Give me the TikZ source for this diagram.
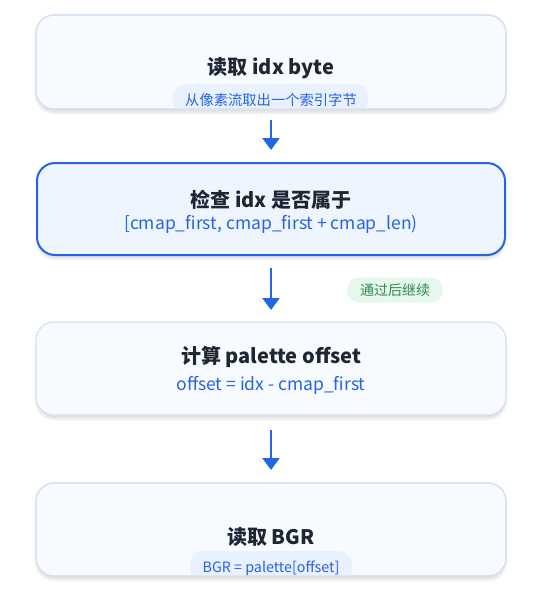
\documentclass[tikz,border=0pt]{standalone}
\usepackage{fontspec}
\setmainfont{Noto Sans CJK SC}
\usetikzlibrary{arrows.meta,shadows.blur}
\definecolor{bordc}{HTML}{D5E1F3}
\definecolor{boxfill}{HTML}{F7FAFF}
\definecolor{actfill}{HTML}{EEF5FF}
\definecolor{blueC}{HTML}{2563EB}
\definecolor{titleC}{HTML}{1E2533}
\definecolor{pillB}{HTML}{E9F1FE}
\definecolor{pillG}{HTML}{E6F8EC}
\definecolor{greenT}{HTML}{2E8B4A}
\tikzset{
  box/.style={draw=bordc,line width=1.2pt,fill=boxfill,rounded corners=18pt,
    blur shadow={shadow blur steps=8,shadow xshift=0pt,shadow yshift=-4pt,shadow opacity=12}},
  actbox/.style={draw=blueC,line width=2pt,fill=actfill,rounded corners=18pt,
    blur shadow={shadow blur steps=8,shadow xshift=0pt,shadow yshift=-4pt,shadow opacity=12}},
  ttl/.style={font=\fontsize{20}{22}\selectfont\bfseries,text=titleC,inner sep=0pt},
  sub/.style={font=\fontsize{17.5}{20}\selectfont,text=blueC,inner sep=0pt},
  pillsub/.style={font=\fontsize{14.3}{16}\selectfont,text=blueC,inner sep=0pt},
  arr/.style={draw=blueC,line width=2.6pt,-{Triangle[width=17pt,length=12pt]}},
}
\begin{document}
\begin{tikzpicture}[x=1pt,y=-1pt]
\useasboundingbox (0,0) rectangle (557,608);
% boxes
\path[box] (36,15) rectangle (506,109);
\begin{scope}
\clip[rounded corners=18pt] (36,15) rectangle (506,109);
\fill[pillB,rounded corners=13pt] (173,84) rectangle (368,114);
\end{scope}
\draw[bordc,line width=1.2pt,rounded corners=18pt] (36,15) rectangle (506,109);
\node[ttl] (t1) at (271,68) {读取 idx byte};
\node[pillsub] (s1) at (271,100) {从像素流取出一个索引字节};

\path[actbox] (37,163) rectangle (505,255);
\node[ttl] (t2) at (271,200) {检查 idx 是否属于};
\node[sub] (s2) at (271,224) {[cmap\_first, cmap\_first + cmap\_len)};

\path[box] (36,322) rectangle (506,415);
\node[ttl] (t3) at (271,357) {计算 palette offset};
\node[sub] (s3) at (271,385) {offset = idx - cmap\_first};

\path[box] (36,483) rectangle (506,576);
\begin{scope}
\clip[rounded corners=18pt] (36,483) rectangle (506,576);
\fill[pillB,rounded corners=13pt] (190,551) rectangle (352,582);
\end{scope}
\draw[bordc,line width=1.2pt,rounded corners=18pt] (36,483) rectangle (506,576);
\node[ttl] (t4) at (271,537) {读取 BGR};
\node[pillsub] (s4) at (271,568) {BGR = palette[offset]};

% coordinates for connectors
\coordinate (a1s) at (271,120);
\coordinate (a1e) at (271,150);
\coordinate (a2s) at (271,268);
\coordinate (a2e) at (271,310);
\coordinate (a3s) at (271,430);
\coordinate (a3e) at (271,470);
\draw[arr] (a1s) -- (a1e);
\draw[arr] (a2s) -- (a2e);
\draw[arr] (a3s) -- (a3e);

\node[fill=pillG,rounded corners=12pt,minimum width=96pt,minimum height=25pt,inner sep=0pt,
  font=\fontsize{14}{16}\selectfont,text=greenT] (g) at (395,290) {通过后继续};
\end{tikzpicture}
\end{document}
